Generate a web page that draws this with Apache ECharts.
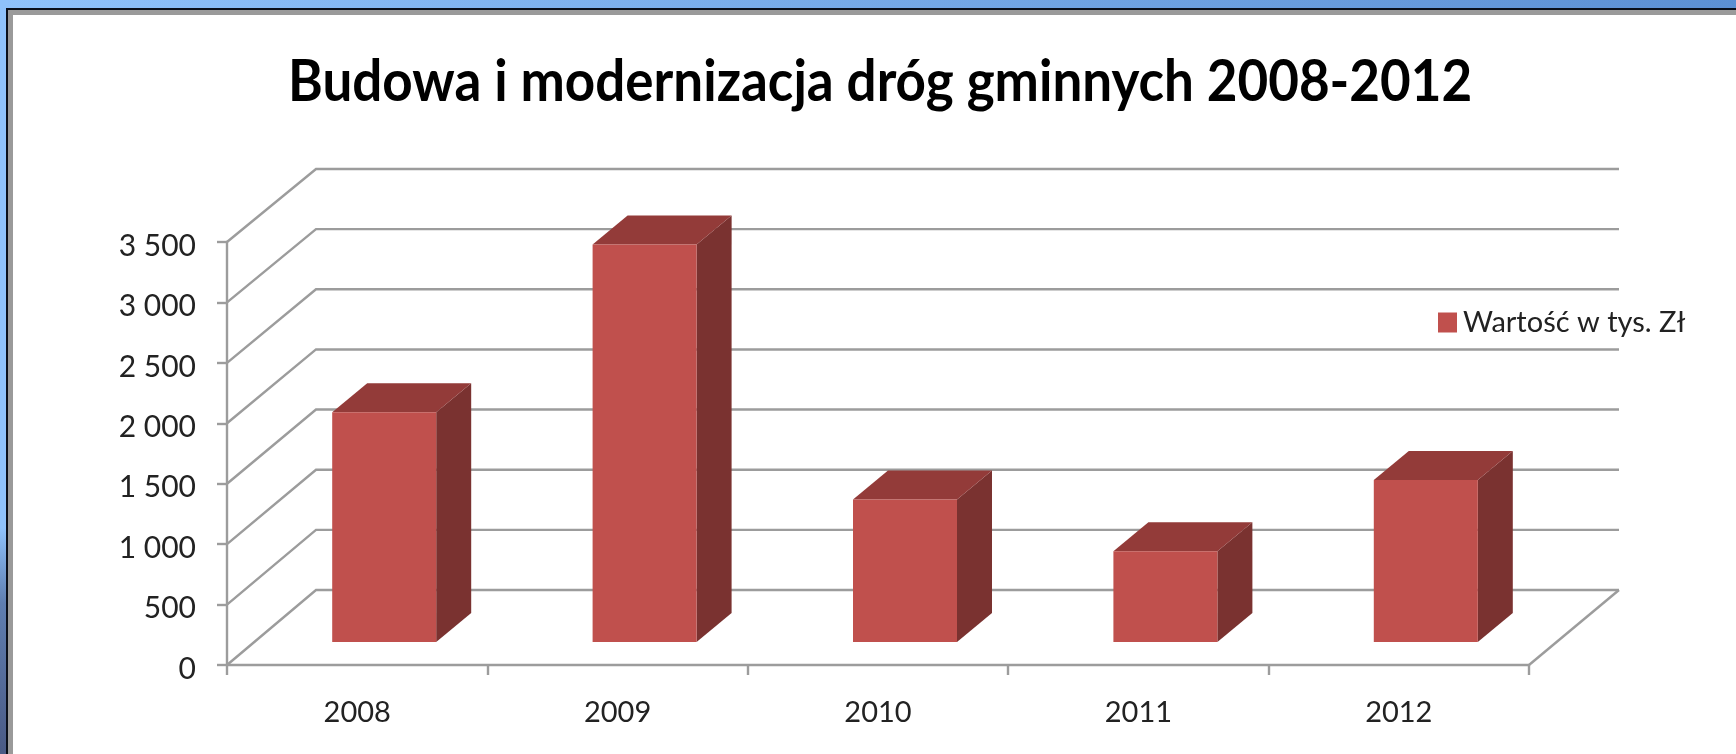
<!DOCTYPE html>
<html>
<head>
<meta charset="utf-8">
<style>
html, body { margin: 0; padding: 0; background: #fff; }
#contain { width: 1736px; height: 754px; }
#contain canvas { filter: blur(0.5px); }
</style>
<script src="https://cdn.jsdelivr.net/npm/echarts@6/dist/echarts.min.js"></script>
</head>
<body>
<div id="contain"></div>
<script>
var years = ['2008', '2009', '2010', '2011', '2012'];
var wartosc = [1900, 3290, 1180, 750, 1340];
var yTicks = [0, 500, 1000, 1500, 2000, 2500, 3000, 3500];
var titleText = 'Budowa i modernizacja dróg gminnych 2008-2012';
var seriesName = 'Wartość w tys. Zł';

var gridColor = '#9c9c9c';
var font = 'Lato';
// przesuniecie tylnej sciany wykresu "3D"
var depthX = 90, depthY = 75;

function renderWall(params, api) {
    var v = api.value(0);
    var front = api.coord([0, v]);
    var frontX = params.coordSys.x;
    var rightX = frontX + params.coordSys.width;
    var y = front[1];
    // tylna sciana jest minimalnie nizsza niz przednia
    var dy = depthY - 2 * v / 3500;
    var children = [{
        type: 'polyline',
        shape: { points: [[frontX, y], [frontX + depthX - 1, y - dy], [rightX + depthX, y - dy]] },
        style: { fill: null, stroke: gridColor, lineWidth: 2.4 }
    }];
    if (v === 0) {
        children.push({
            type: 'line',
            shape: { x1: rightX, y1: y, x2: rightX + depthX, y2: y - dy },
            style: { stroke: gridColor, lineWidth: 2.4 }
        });
    }
    return { type: 'group', children: children };
}

function renderBar(params, api) {
    var idx = api.value(0);
    var top = api.coord([idx, api.value(1)]);
    var base = api.coord([idx, 0]);
    var w = 104, sx = 35, sy = 29, lift = 23;
    var x0 = top[0] + 27 - w / 2;
    var x1 = x0 + w;
    var yt = top[1] - lift;
    var yb = base[1] - lift;
    return {
        type: 'group',
        children: [
            { type: 'polygon', shape: { points: [[x1, yt], [x1 + sx, yt - sy], [x1 + sx, yb - sy], [x1, yb]] }, style: { fill: '#7a3230' } },
            { type: 'polygon', shape: { points: [[x0, yt], [x0 + sx, yt - sy], [x1 + sx, yt - sy], [x1, yt]] }, style: { fill: '#933b39' } },
            { type: 'rect', shape: { x: x0, y: yt, width: w, height: yb - yt }, style: { fill: '#c0504d' } }
        ]
    };
}

var myChart = echarts.init(document.getElementById('contain'));

var option = {
    animation: false,
    backgroundColor: '#fff',
    legend: {
        data: [seriesName],
        left: 1438,
        top: 308,
        padding: 0,
        icon: 'rect',
        itemWidth: 19,
        itemHeight: 20,
        itemGap: 0,
        textStyle: { fontFamily: font, fontSize: 29, color: '#222', padding: [0, 0, 0, 1] }
    },
    grid: { left: 227, top: 242, width: 1302, height: 423 },
    xAxis: {
        type: 'category',
        data: years,
        axisLine: { lineStyle: { color: gridColor, width: 2.4 } },
        axisTick: { show: true, length: 10, lineStyle: { color: gridColor, width: 2.4 } },
        axisLabel: { fontFamily: font, fontSize: 29, color: '#222', margin: 33 }
    },
    yAxis: {
        type: 'value',
        min: 0,
        max: 3500,
        interval: 500,
        splitLine: { show: false },
        axisLine: { show: true, lineStyle: { color: gridColor, width: 2.4 } },
        axisTick: { show: true, length: 10, lineStyle: { color: gridColor, width: 2.4 } },
        axisLabel: {
            fontFamily: font,
            fontSize: 30,
            color: '#222',
            margin: 31,
            lineHeight: 44,
            verticalAlign: 'top',
            padding: [-18, 0, 0, 0],
            formatter: function (v) {
                return String(v).replace(/\B(?=(\d{3})+$)/g, ' ');
            }
        }
    },
    graphic: [
        // ramka slajdu wokol wykresu
        { type: 'rect', z: -10, shape: { x: 0, y: 0, width: 1736, height: 8 },
          style: { fill: new echarts.graphic.LinearGradient(0, 0, 1, 0, [{ offset: 0, color: '#8fc2fb' }, { offset: 1, color: '#5c90d4' }]) } },
        { type: 'rect', z: -10, shape: { x: 0, y: 0, width: 7, height: 754 },
          style: { fill: new echarts.graphic.LinearGradient(0, 0, 0, 1, [{ offset: 0, color: '#8fc2fb' }, { offset: 0.7, color: '#8fc2fb' }, { offset: 0.8, color: '#5f7eb0' }, { offset: 1, color: '#4a5a85' }]) } },
        { type: 'rect', z: -9, shape: { x: 6, y: 8, width: 1730, height: 2 }, style: { fill: '#0a0f1a' } },
        { type: 'rect', z: -9, shape: { x: 6, y: 8, width: 2, height: 746 }, style: { fill: '#0a0f1a' } },
        { type: 'rect', z: -9, shape: { x: 8, y: 10, width: 1728, height: 5 }, style: { fill: '#9a9a9a' } },
        { type: 'rect', z: -9, shape: { x: 8, y: 10, width: 5, height: 744 }, style: { fill: '#9a9a9a' } },
        // tytul zwezony, bo Lato jest szersze od oryginalnej czcionki
        { type: 'text', x: 288, y: 53, scaleX: 0.913,
          style: { text: titleText, fontFamily: font, fontSize: 58, fontWeight: 'bold', fill: '#000', textVerticalAlign: 'top' } }
    ],
    series: [
        {
            name: 'sciana',
            type: 'custom',
            silent: true,
            z: 1,
            renderItem: renderWall,
            data: yTicks.map(function (v) { return [v]; }),
            encode: { y: 0 }
        },
        {
            name: seriesName,
            type: 'custom',
            z: 2,
            itemStyle: { color: '#c0504d' },
            renderItem: renderBar,
            data: wartosc.map(function (v, i) { return [i, v]; }),
            encode: { x: 0, y: 1 }
        }
    ]
};

myChart.setOption(option);
</script>
</body>
</html>
